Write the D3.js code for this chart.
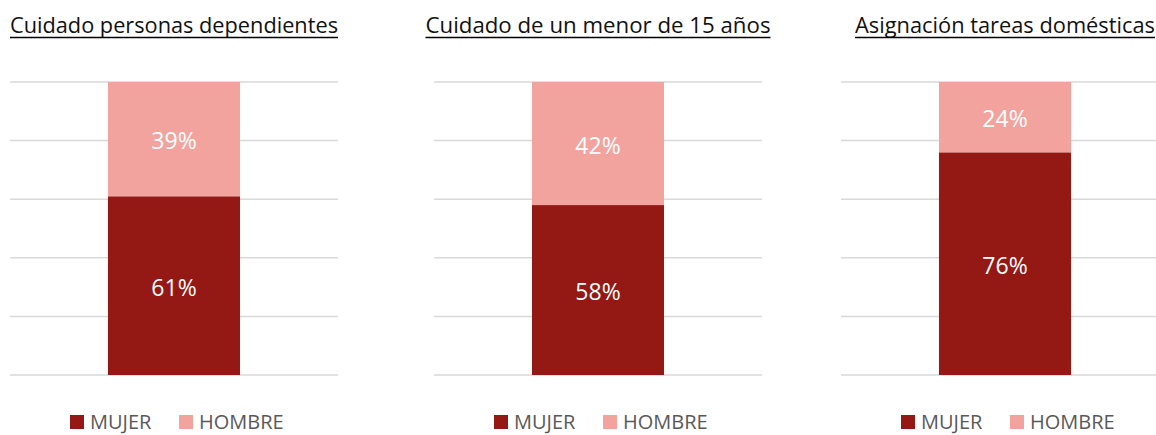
<!DOCTYPE html>
<html>
<head>
<meta charset="utf-8">
<script src="https://cdn.jsdelivr.net/npm/d3@7"></script>
<style>
  body { margin: 0; background: #fff; }
  svg { display: block; }
</style>
</head>
<body>
<div id="chart"></div>
<script>
// Panel data
const titles = ["Cuidado personas dependientes", "Cuidado de un menor de 15 años", "Asignación tareas domésticas"];
const mujer = [61, 58, 76];
const hombre = [39, 42, 24];
const seriesNames = ["MUJER", "HOMBRE"];
const yTicks = [0, 20, 40, 60, 80, 100];

const width = 1156, height = 435;
const colors = { MUJER: "#941813", HOMBRE: "#f3a39e" };

const svg = d3.select("#chart").append("svg")
  .attr("width", width)
  .attr("height", height);

// left edge of each panel's plot area
const panelLeft = [10, 434, 841];
const panelWidth = 328;
const titleWidths = [328, 345, 300];

const y = d3.scaleLinear().domain([0, 100]).range([375, 82]);

titles.forEach((title, i) => {
  const g = svg.append("g").attr("transform", `translate(${panelLeft[i]},0)`);
  const cx = panelWidth / 2;

  const x = d3.scaleBand()
    .domain([title])
    .range([0, panelWidth])
    .paddingInner(0)
    .paddingOuter(0.742);

  // gridlines
  g.selectAll("line.grid")
    .data(yTicks)
    .enter().append("line")
    .attr("class", "grid")
    .attr("x1", 0).attr("x2", panelWidth)
    .attr("y1", d => y(d)).attr("y2", d => y(d))
    .attr("stroke", "#d9d9d9")
    .attr("stroke-width", 1.5);

  // stacked segments
  const segs = [
    { name: "MUJER", y0: 0, y1: mujer[i], v: mujer[i] },
    { name: "HOMBRE", y0: mujer[i], y1: mujer[i] + hombre[i], v: hombre[i] }
  ];

  g.selectAll("rect.seg")
    .data(segs)
    .enter().append("rect")
    .attr("class", "seg")
    .attr("x", x(title))
    .attr("width", x.bandwidth())
    .attr("y", d => y(d.y1))
    .attr("height", d => y(d.y0) - y(d.y1))
    .attr("fill", d => colors[d.name]);

  g.selectAll("text.lbl")
    .data(segs)
    .enter().append("text")
    .attr("class", "lbl")
    .attr("x", x(title) + x.bandwidth() / 2)
    .attr("y", d => (y(d.y0) + y(d.y1)) / 2 + 2)
    .attr("dy", "0.36em")
    .attr("text-anchor", "middle")
    .attr("fill", "#fff")
    .style("font-family", "'Open Sans', sans-serif")
    .style("font-size", "23px")
    .text(d => d.v + "%");

  // title with underline
  g.append("text")
    .attr("x", cx)
    .attr("y", 33)
    .attr("text-anchor", "middle")
    .attr("fill", "#111")
    .attr("textLength", titleWidths[i])
    .attr("lengthAdjust", "spacingAndGlyphs")
    .style("font-family", "'Open Sans', sans-serif")
    .style("font-size", "21px")
    .text(title);
  g.append("line")
    .attr("x1", cx - titleWidths[i] / 2).attr("x2", cx + titleWidths[i] / 2)
    .attr("y1", 37.5).attr("y2", 37.5)
    .attr("stroke", "#000")
    .attr("stroke-width", 1.5);

  // legend
  const legendX = { MUJER: -104, HOMBRE: 5 };
  const lg = g.selectAll("g.leg")
    .data(seriesNames)
    .enter().append("g")
    .attr("class", "leg")
    .attr("transform", d => `translate(${cx + legendX[d]},415)`);
  lg.append("rect")
    .attr("width", 14).attr("height", 14)
    .attr("fill", d => colors[d]);
  lg.append("text")
    .attr("x", 20)
    .attr("y", 14)
    .attr("fill", "#595959")
    .style("font-family", "'Open Sans', sans-serif")
    .style("font-size", "20px")
    .text(d => d);
});
</script>
</body>
</html>
